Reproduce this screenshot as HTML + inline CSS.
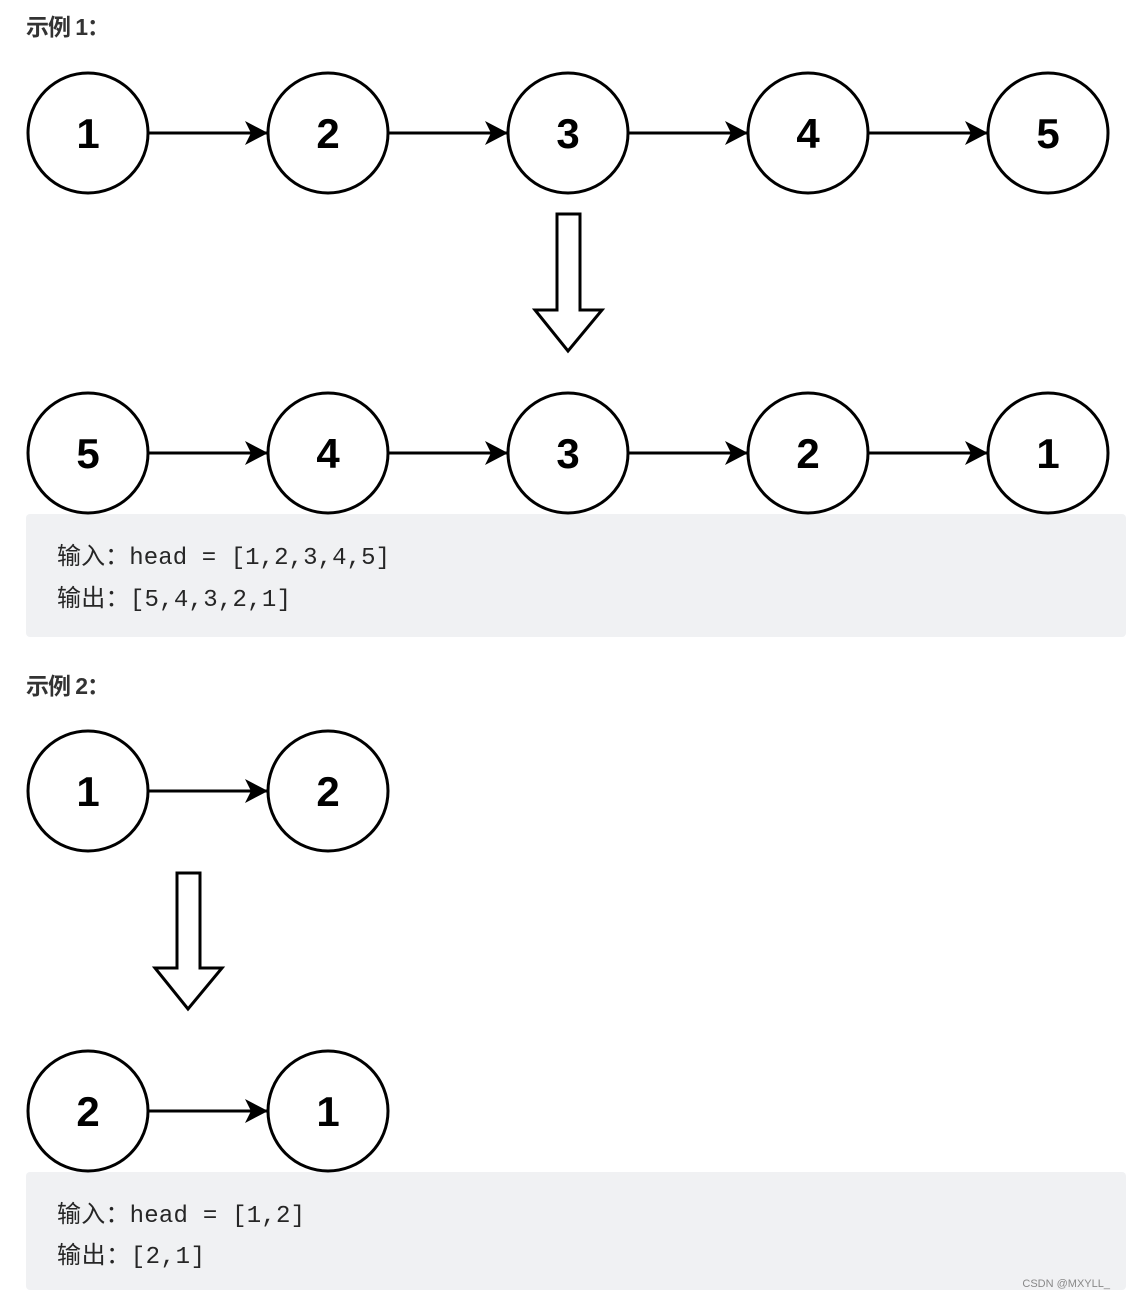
<!DOCTYPE html>
<html><head><meta charset="utf-8"><style>
html,body{margin:0;padding:0;background:#fff;}
svg{display:block;}
</style></head><body>
<svg width="1126" height="1298" viewBox="0 0 1126 1298" xmlns="http://www.w3.org/2000/svg">
<rect width="1126" height="1298" fill="#fff"/>
<defs>
<marker id="ah" markerWidth="24" markerHeight="26" refX="23" refY="13" orient="auto" markerUnits="userSpaceOnUse">
<path d="M0,1 L23,13 L0,25 L6,13 Z" fill="#000"/>
</marker>
</defs>
<g font-family="'Liberation Sans','Noto Sans CJK SC',sans-serif" font-weight="bold" font-size="23" fill="#333">
<text x="26" y="35" textLength="84" lengthAdjust="spacing">示例 1：</text>
<text x="26" y="694" textLength="84" lengthAdjust="spacing">示例 2：</text>
</g>
<rect x="26" y="514" width="1100" height="123" rx="4" fill="#f0f1f3"/>
<rect x="26" y="1172" width="1100" height="118" rx="4" fill="#f0f1f3"/>
<g font-family="'Liberation Mono','Noto Sans CJK SC',monospace" font-size="24" fill="#262626">
<text x="57" y="564" textLength="333" lengthAdjust="spacing">输入：head = [1,2,3,4,5]</text>
<text x="57" y="606" textLength="234" lengthAdjust="spacing">输出：[5,4,3,2,1]</text>
<text x="57" y="1222" textLength="248" lengthAdjust="spacing">输入：head = [1,2]</text>
<text x="57" y="1263" textLength="148" lengthAdjust="spacing">输出：[2,1]</text>
</g>
<text x="1110" y="1287" text-anchor="end" font-family="'Liberation Sans',sans-serif" font-size="11" fill="#888">CSDN @MXYLL_</text>
<g stroke="#000" stroke-width="3" fill="#fff">
<line x1="148" y1="133" x2="268" y2="133" marker-end="url(#ah)"/>
<line x1="388" y1="133" x2="508" y2="133" marker-end="url(#ah)"/>
<line x1="628" y1="133" x2="748" y2="133" marker-end="url(#ah)"/>
<line x1="868" y1="133" x2="988" y2="133" marker-end="url(#ah)"/>
<circle cx="88" cy="133" r="60"/><circle cx="328" cy="133" r="60"/><circle cx="568" cy="133" r="60"/><circle cx="808" cy="133" r="60"/><circle cx="1048" cy="133" r="60"/>
<line x1="148" y1="453" x2="268" y2="453" marker-end="url(#ah)"/>
<line x1="388" y1="453" x2="508" y2="453" marker-end="url(#ah)"/>
<line x1="628" y1="453" x2="748" y2="453" marker-end="url(#ah)"/>
<line x1="868" y1="453" x2="988" y2="453" marker-end="url(#ah)"/>
<circle cx="88" cy="453" r="60"/><circle cx="328" cy="453" r="60"/><circle cx="568" cy="453" r="60"/><circle cx="808" cy="453" r="60"/><circle cx="1048" cy="453" r="60"/>
<line x1="148" y1="791" x2="268" y2="791" marker-end="url(#ah)"/>
<circle cx="88" cy="791" r="60"/><circle cx="328" cy="791" r="60"/>
<line x1="148" y1="1111" x2="268" y2="1111" marker-end="url(#ah)"/>
<circle cx="88" cy="1111" r="60"/><circle cx="328" cy="1111" r="60"/>
<path d="M557,214 L580,214 L580,310 L602,310 L568,351 L535,310 L557,310 Z" stroke-linejoin="miter"/>
<path d="M177,873 L200,873 L200,968 L222,968 L188,1009 L155,968 L177,968 Z" stroke-linejoin="miter"/>
</g>
<g font-family="'Liberation Sans',sans-serif" font-weight="bold" font-size="42" fill="#000" text-anchor="middle">
<text x="88" y="148">1</text><text x="328" y="148">2</text><text x="568" y="148">3</text><text x="808" y="148">4</text><text x="1048" y="148">5</text>
<text x="88" y="468">5</text><text x="328" y="468">4</text><text x="568" y="468">3</text><text x="808" y="468">2</text><text x="1048" y="468">1</text>
<text x="88" y="806">1</text><text x="328" y="806">2</text>
<text x="88" y="1126">2</text><text x="328" y="1126">1</text>
</g>
</svg>
</body></html>
